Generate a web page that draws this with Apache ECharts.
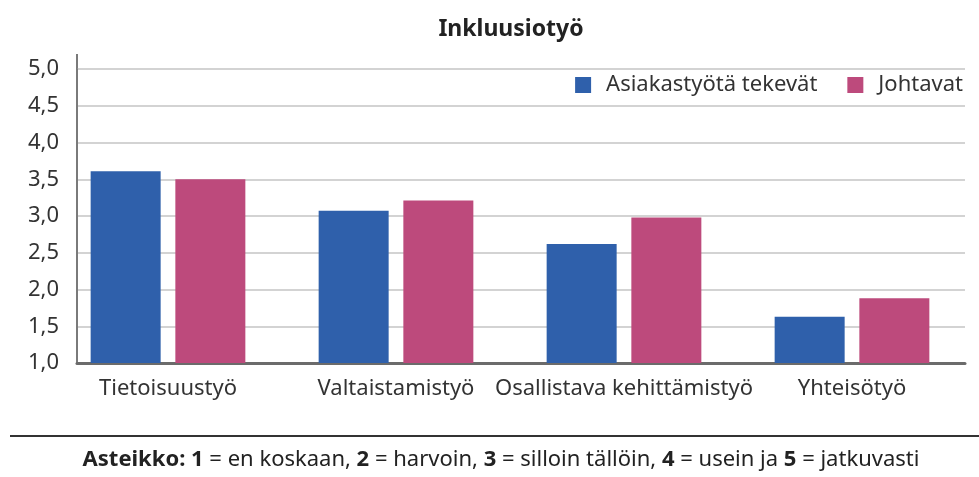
<!DOCTYPE html>
<html>
<head>
<meta charset="utf-8">
<script src="https://cdn.jsdelivr.net/npm/echarts@6/dist/echarts.min.js"></script>
<style>
  html, body { margin: 0; padding: 0; background: #fff; }
  #main { width: 979px; height: 477px; }
</style>
</head>
<body>
<div id="main"></div>
<script>
"use strict";
var categories = ['Tietoisuustyö', 'Valtaistamistyö', 'Osallistava kehittämistyö', 'Yhteisötyö'];
var seriesNames = ['Asiakastyötä tekevät', 'Johtavat'];
var asiakastyo = [3.61, 3.07, 2.62, 1.63];
var johtavat = [3.50, 3.21, 2.98, 1.88];
var yTicks = [1.0, 1.5, 2.0, 2.5, 3.0, 3.5, 4.0, 4.5, 5.0];

var chart = echarts.init(document.getElementById('main'));
var font = 'Noto Sans';

var option = {
    backgroundColor: '#fff',
    animation: false,
    textStyle: { fontFamily: font },
    title: {
        text: 'Inkluusiotyö',
        left: 506,
        top: 13,
        textAlign: 'center',
        textStyle: { fontSize: 23, fontWeight: 'bold', color: '#222', fontFamily: font }
    },
    legend: {
        data: seriesNames,
        right: 16,
        top: 72,
        icon: 'rect',
        itemWidth: 16,
        itemHeight: 16,
        itemGap: 30,
        backgroundColor: '#fff',
        padding: [2, 0, 2, 6],
        textStyle: { fontSize: 22, color: '#333', fontFamily: font, padding: [0, 0, 0, 10] }
    },
    grid: [
        { left: 54, right: 13, top: 69, bottom: 114 },
        { left: 77, right: 14, top: 69, bottom: 114 }
    ],
    xAxis: [
        {
            type: 'category',
            gridIndex: 0,
            data: categories,
            axisLine: { show: false },
            axisTick: { show: false },
            axisLabel: { fontSize: 22, color: '#333', margin: 15, fontFamily: font, interval: 0 }
        },
        {
            type: 'value',
            gridIndex: 1,
            show: true,
            min: 0, max: 1,
            axisLine: { show: true, onZero: false, lineStyle: { color: '#6b6b6b', width: 3 } },
            axisTick: { show: false },
            axisLabel: { show: false },
            splitLine: { show: false }
        }
    ],
    yAxis: [
        {
            type: 'value',
            gridIndex: 0,
            min: yTicks[0],
            max: yTicks[yTicks.length - 1],
            interval: 0.5,
            show: false
        },
        {
            type: 'value',
            gridIndex: 1,
            min: yTicks[0],
            max: yTicks[yTicks.length - 1],
            interval: 0.5,
            axisLine: { show: true, lineStyle: { color: '#7a7a7a', width: 2 } },
            axisTick: { show: false },
            axisLabel: {
                fontSize: 22,
                color: '#333',
                margin: 18,
                fontFamily: font,
                formatter: function (v) { return v.toFixed(1).replace('.', ','); }
            },
            splitLine: { lineStyle: { color: '#c4c4c4', width: 1.5 } }
        }
    ],
    series: [
        {
            name: seriesNames[0],
            type: 'bar',
            xAxisIndex: 0, yAxisIndex: 0,
            data: asiakastyo,
            barWidth: 70,
            barGap: '21%',
            z: 3,
            itemStyle: { color: '#2f60ab' }
        },
        {
            name: seriesNames[1],
            type: 'bar',
            xAxisIndex: 0, yAxisIndex: 0,
            data: johtavat,
            barWidth: 70,
            barGap: '21%',
            z: 3,
            itemStyle: { color: '#bd4a7c' }
        }
    ],
    graphic: [
        {
            type: 'line',
            shape: { x1: 77, y1: 54, x2: 77, y2: 69 },
            style: { stroke: '#7a7a7a', lineWidth: 2 }
        },
        {
            type: 'line',
            shape: { x1: 10, y1: 436, x2: 979, y2: 436 },
            style: { stroke: '#333', lineWidth: 2 }
        },
        {
            type: 'text',
            x: 501,
            y: 449,
            style: {
                text: '{b|Asteikko: 1} = en koskaan, {b|2} = harvoin, {b|3} = silloin tällöin, {b|4} = usein ja {b|5} = jatkuvasti',
                font: '22px "Noto Sans"',
                fill: '#222',
                align: 'center',
                rich: {
                    b: { fontWeight: 'bold', fontSize: 22, fontFamily: font, fill: '#222' }
                }
            }
        }
    ]
};
chart.setOption(option);
</script>
</body>
</html>
